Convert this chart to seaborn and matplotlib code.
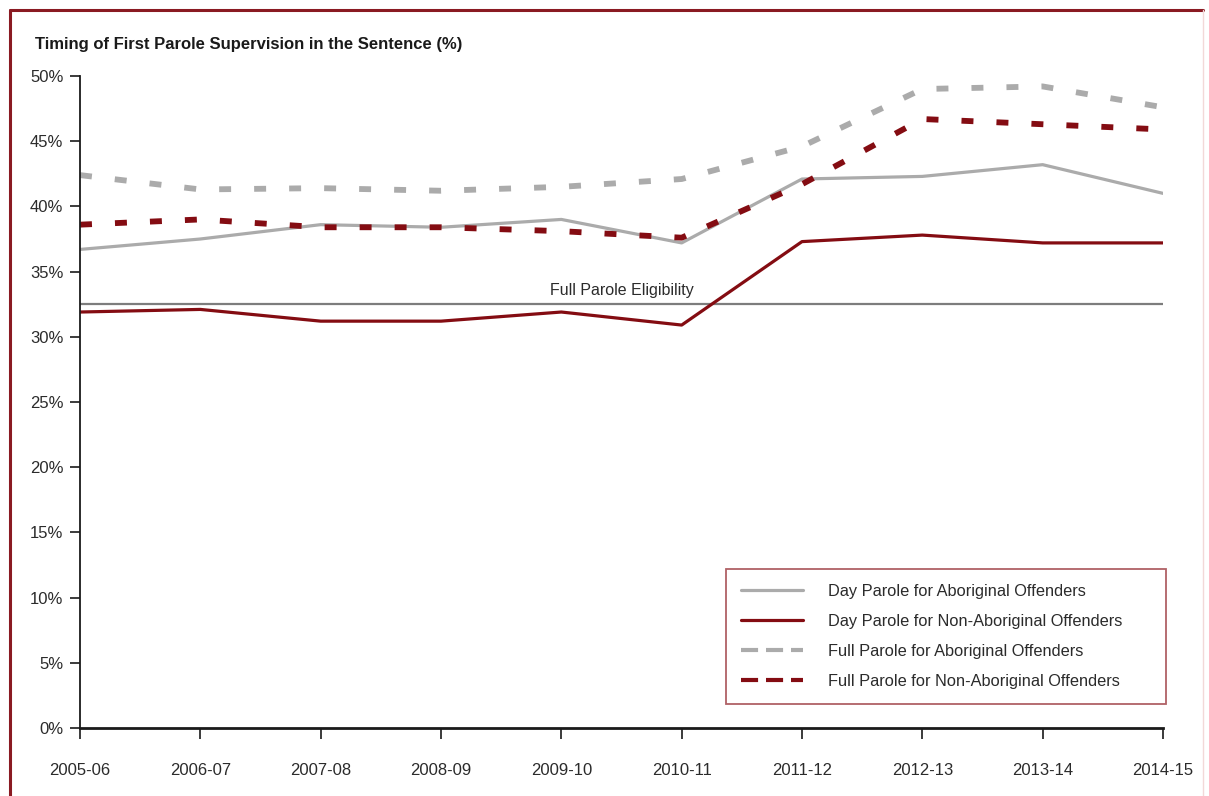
import matplotlib
matplotlib.use("Agg")
import matplotlib.pyplot as plt
from matplotlib.lines import Line2D
import pandas as pd
import seaborn as sns

# Fiscal years on the x axis
years = ["2005-06", "2006-07", "2007-08", "2008-09", "2009-10",
         "2010-11", "2011-12", "2012-13", "2013-14", "2014-15"]

# Share of the sentence served before first parole supervision (%)
day_aboriginal = [36.7, 37.5, 38.6, 38.4, 39.0, 37.2, 42.1, 42.3, 43.2, 41.0]
day_non_aboriginal = [31.9, 32.1, 31.2, 31.2, 31.9, 30.9, 37.3, 37.8, 37.2, 37.2]
full_aboriginal = [42.4, 41.3, 41.4, 41.2, 41.5, 42.1, 44.6, 49.0, 49.2, 47.6]
full_non_aboriginal = [38.6, 39.0, 38.4, 38.4, 38.1, 37.6, 41.7, 46.7, 46.3, 45.9]

full_parole_eligibility = 32.5

series_names = [
    "Day Parole for Aboriginal Offenders",
    "Day Parole for Non-Aboriginal Offenders",
    "Full Parole for Aboriginal Offenders",
    "Full Parole for Non-Aboriginal Offenders",
]
series_values = [day_aboriginal, day_non_aboriginal, full_aboriginal, full_non_aboriginal]

GREY = "#ababab"
RED = "#840c12"
TEXT = "#2b2b2b"

sns.set_theme(style="white")
plt.rcParams["font.family"] = ["Liberation Sans", "DejaVu Sans"]

records = []
for name, vals in zip(series_names, series_values):
    for i, (yr, v) in enumerate(zip(years, vals)):
        records.append({"pos": i, "year": yr, "value": v, "series": name})
df = pd.DataFrame(records)

palette = {series_names[0]: GREY, series_names[1]: RED,
           series_names[2]: GREY, series_names[3]: RED}

fig = plt.figure(figsize=(12.09, 7.96), dpi=100)
ax = fig.add_axes([80 / 1209, 68 / 796, 1083 / 1209, 652 / 796])

# Solid day-parole lines
solid = df[df["series"].isin(series_names[:2])]
sns.lineplot(data=solid, x="pos", y="value", hue="series", palette=palette,
             linewidth=2.3, ax=ax, legend=False, sort=False)

# Dashed full-parole lines
for name in series_names[2:]:
    sub = df[df["series"] == name]
    sns.lineplot(data=sub, x="pos", y="value", color=palette[name],
                 linewidth=4.2, ax=ax, legend=False, sort=False)
for line in ax.get_lines()[2:]:
    line.set_dashes((2.05, 3.95))
    line.set_dash_capstyle("butt")

# Full parole eligibility reference line
ax.axhline(full_parole_eligibility, color="#7d7d7d", linewidth=1.6, zorder=1)
ax.text(4.5, full_parole_eligibility + 0.45, "Full Parole Eligibility",
        ha="center", va="bottom", fontsize=11.5, color=TEXT)

ax.set_xlim(0, len(years) - 1)
ax.set_ylim(0, 50)
ax.set_xticks(range(len(years)))
ax.set_xticklabels(years)
ax.set_yticks(range(0, 51, 5))
ax.set_yticklabels([f"{v}%" for v in range(0, 51, 5)])
ax.set_xlabel("")
ax.set_ylabel("")

for side in ("top", "right"):
    ax.spines[side].set_visible(False)
ax.spines["left"].set_color("#1a1a1a")
ax.spines["left"].set_linewidth(1.3)
ax.spines["bottom"].set_color("#1a1a1a")
ax.spines["bottom"].set_linewidth(2.0)
ax.tick_params(axis="y", which="major", direction="out", length=7, width=1.2,
               color="#1a1a1a", labelsize=12, labelcolor=TEXT, pad=5, left=True)
ax.tick_params(axis="x", which="major", direction="out", length=8, width=1.2,
               color="#1a1a1a", labelsize=12, labelcolor=TEXT, pad=17, bottom=True)

fig.text(35 / 1209, 1 - 44 / 796, "Timing of First Parole Supervision in the Sentence (%)",
         fontsize=12, fontweight="bold", color="#1a1a1a", va="center", ha="left")

legend_dash = (4.1, 1.9)
handles = [
    Line2D([], [], color=GREY, linewidth=2.3),
    Line2D([], [], color=RED, linewidth=2.3),
    Line2D([], [], color=GREY, linewidth=3.0, dashes=legend_dash, dash_capstyle="butt"),
    Line2D([], [], color=RED, linewidth=3.0, dashes=legend_dash, dash_capstyle="butt"),
]
leg = ax.legend(handles, series_names, loc="upper left",
                bbox_to_anchor=(0.5965, 0.0368, 0.4065, 0.207), mode="expand",
                frameon=True, fancybox=False,
                fontsize=11.8, handlelength=3.8, handletextpad=1.55,
                labelspacing=0.92, borderpad=0.9, borderaxespad=0)
leg.get_frame().set_edgecolor("#9c3a40")
leg.get_frame().set_linewidth(1.3)
for t in leg.get_texts():
    t.set_color(TEXT)

# Dark red frame around the figure (top and left), faint on the right
fig.add_artist(Line2D([10 / 1209, 1203 / 1209], [1 - 10 / 796, 1 - 10 / 796],
                      color="#8a1a22", linewidth=2.2, transform=fig.transFigure))
fig.add_artist(Line2D([10 / 1209, 10 / 1209], [0, 1 - 10 / 796],
                      color="#8a1a22", linewidth=2.2, transform=fig.transFigure))
fig.add_artist(Line2D([1203 / 1209, 1203 / 1209], [0, 1 - 10 / 796],
                      color="#f2d8d8", linewidth=1.0, transform=fig.transFigure))

fig.savefig("out.png", dpi=100)
